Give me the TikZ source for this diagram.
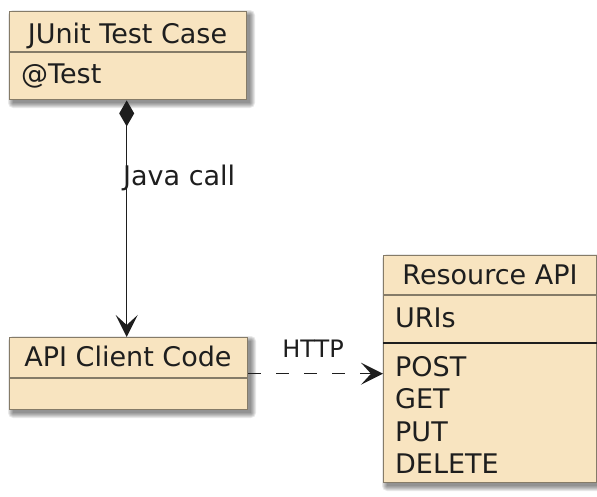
\documentclass[tikz,border=0pt]{standalone}
\usepackage{fontspec}
\setmainfont{DejaVu Sans}
\usetikzlibrary{arrows.meta}
\definecolor{boxfill}{HTML}{F8E4C0}
\definecolor{boxline}{HTML}{857B68}
\definecolor{txt}{HTML}{1E1E1E}
\tikzset{
  classbox/.style={draw=boxline, line width=1.4pt, fill=boxfill, rectangle, inner sep=0pt, anchor=north west},
  sepline/.style={draw=boxline, line width=1.2pt},
  darksep/.style={draw=txt, line width=1.4pt},
  ctext/.style={text=txt, inner sep=0pt, anchor=base, font=\fontsize{27}{31}\selectfont},
  ltext/.style={text=txt, inner sep=0pt, anchor=base west, font=\fontsize{27}{31}\selectfont},
  lbl/.style={text=txt, inner sep=0pt, anchor=base, font=\fontsize{24}{28}\selectfont},
  conn/.style={draw=txt, line width=1.5pt},
  opentip/.style={-{Stealth[length=22pt,width=22pt,inset=10pt]}},
}
\newcommand{\myshadow}[4]{%
  \foreach \e in {0,...,5}{%
    \fill[black,opacity=0.085,rounded corners=\e pt] ({#1+4-\e},{#2+4-\e}) rectangle ({#3+4+\e},{#4+4+\e});
  }}
\begin{document}
\begin{tikzpicture}[x=1pt,y=-1pt]
\useasboundingbox (0,0) rectangle (597,496);
\fill[white] (0,0) rectangle (597,496);
% shadows
\myshadow{9}{11}{246}{99}
\myshadow{9}{337}{247}{409}
\myshadow{383}{255}{596}{482}
% boxes
\node[classbox, minimum width=237pt, minimum height=88pt] (junit) at (9,11) {};
\node[classbox, minimum width=238pt, minimum height=72pt] (client) at (9,337) {};
\node[classbox, minimum width=213pt, minimum height=227pt] (res) at (383,255) {};
% separators
\draw[sepline] (junit.west |- 0,52) -- (junit.east |- 0,52);
\draw[sepline] (client.west |- 0,378) -- (client.east |- 0,378);
\draw[sepline] (res.west |- 0,295) -- (res.east |- 0,295);
\draw[darksep] (res.west |- 0,343) -- (res.east |- 0,343);
% texts
\node[ctext] (junitname) at (127.5,43) {JUnit Test Case};
\node[ltext] (junitattr) at (21,83) {@Test};
\node[ctext] (clientname) at (128,366.5) {API Client Code};
\node[ctext] (resname) at (490,284) {Resource API};
\node[ltext] (uris) at (395,327) {URIs};
\node[ltext] (post) at (395,376.5) {POST};
\node[ltext] (get) at (395,408) {GET};
\node[ltext] (put) at (395,441) {PUT};
\node[ltext] (delete) at (395,473.5) {DELETE};
% connectors
\coordinate (jtop) at (126.7,99);
\coordinate (jbot) at (126.7,337);
\draw[conn, {Diamond[length=26pt,width=15pt]}-{Stealth[length=22pt,width=22pt,inset=10pt]}] (junit.south -| jtop) -- (client.north -| jbot);
\draw[conn, dash pattern=on 13pt off 15pt, opentip] (client.east) -- (client.east -| res.west);
% labels
\node[ltext] (javacall) at (123,185) {Java call};
\node[lbl] (http) at (313,357.5) {HTTP};
\end{tikzpicture}
\end{document}
